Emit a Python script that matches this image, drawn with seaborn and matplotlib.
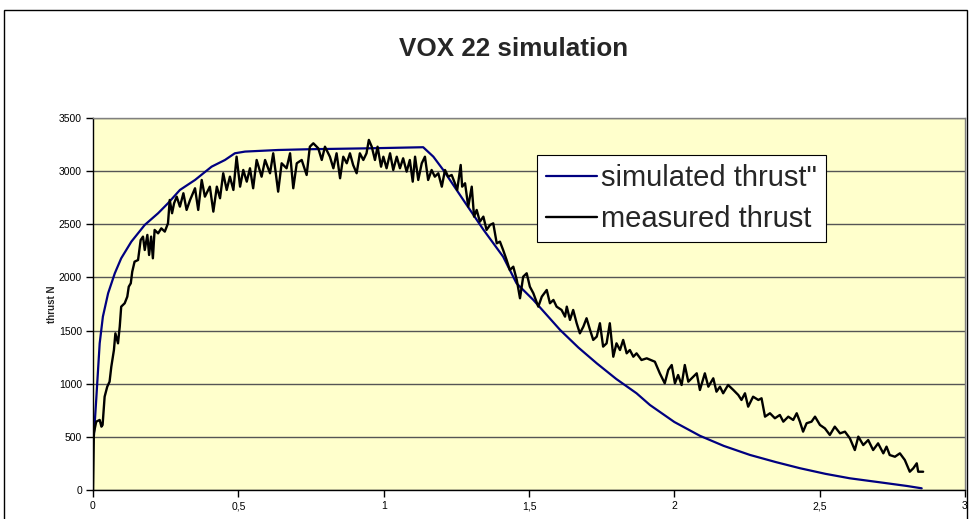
import matplotlib
matplotlib.use("Agg")
import matplotlib.pyplot as plt
from matplotlib.patches import Rectangle
import seaborn as sns

# simulated thrust (smooth curve)
sim_t = [0, 0.003, 0.011, 0.023, 0.034, 0.052, 0.075, 0.097, 0.132, 0.178,
         0.224, 0.258, 0.299, 0.351, 0.408, 0.454, 0.488, 0.523, 0.637, 0.741,
         0.953, 1.136, 1.171, 1.205, 1.274, 1.343, 1.411, 1.457, 1.515, 1.607,
         1.670, 1.733, 1.800, 1.870, 1.916, 2.000, 2.088, 2.170, 2.260, 2.350,
         2.432, 2.520, 2.604, 2.719, 2.800, 2.851]
sim_thrust = [480, 502, 847, 1380, 1631, 1851, 2039, 2180, 2337, 2494,
              2604, 2698, 2823, 2917, 3042, 3105, 3168, 3184, 3199, 3206,
              3215, 3225, 3136, 3011, 2729, 2450, 2195, 1945, 1788, 1506,
              1340, 1192, 1045, 910, 800, 640, 510, 415, 330, 262,
              205, 152, 110, 68, 38, 16]

# measured thrust (noisy)
meas_t = [0, 0.003, 0.011, 0.023, 0.029, 0.033, 0.040, 0.049, 0.057, 0.063,
          0.072, 0.077, 0.086, 0.092, 0.097, 0.109, 0.118, 0.123, 0.130, 0.135,
          0.143, 0.155, 0.164, 0.172, 0.178, 0.187, 0.193, 0.200, 0.206, 0.212,
          0.224, 0.235, 0.247, 0.258, 0.264, 0.272, 0.279, 0.288,
          0.299, 0.311, 0.322, 0.334, 0.351, 0.362, 0.374, 0.385, 0.402, 0.414,
          0.426, 0.437, 0.448, 0.460, 0.471, 0.483, 0.494, 0.506, 0.517, 0.529,
          0.540, 0.551, 0.563, 0.580, 0.592, 0.609, 0.620, 0.637, 0.649, 0.666,
          0.678, 0.689, 0.701, 0.718, 0.735, 0.746, 0.758, 0.775, 0.787, 0.798,
          0.815,
          0.827, 0.838, 0.850, 0.861, 0.873, 0.884, 0.895, 0.907, 0.918, 0.930,
          0.941, 0.949, 0.959, 0.970, 0.979, 0.991, 0.999, 1.010, 1.022, 1.033,
          1.045, 1.056, 1.067, 1.079, 1.090, 1.100, 1.108, 1.119, 1.131, 1.142,
          1.153, 1.165, 1.176, 1.188, 1.200, 1.211, 1.222, 1.234, 1.245, 1.253,
          1.265, 1.270, 1.280, 1.291, 1.303, 1.311, 1.320, 1.331, 1.343, 1.354,
          1.366, 1.377, 1.389, 1.400, 1.411, 1.423, 1.434, 1.446, 1.458, 1.469,
          1.480, 1.492, 1.503,
          1.515, 1.532, 1.544, 1.561, 1.572, 1.584, 1.595, 1.612, 1.624, 1.630,
          1.641, 1.652, 1.664, 1.675, 1.687, 1.698, 1.710, 1.721, 1.733, 1.744,
          1.755, 1.767, 1.778, 1.790, 1.801, 1.813, 1.824, 1.836, 1.847, 1.859,
          1.870, 1.887, 1.905,
          1.933, 1.950, 1.967, 1.979, 1.991, 2.002, 2.013, 2.025, 2.036, 2.048,
          2.065, 2.077, 2.088, 2.105, 2.117, 2.134, 2.145, 2.157, 2.168, 2.185,
          2.203, 2.220, 2.231, 2.243, 2.254, 2.271, 2.289, 2.300, 2.312, 2.329,
          2.346, 2.363, 2.375, 2.392, 2.409, 2.421, 2.432, 2.443, 2.455, 2.472,
          2.484, 2.501, 2.518, 2.535, 2.552, 2.570, 2.587, 2.604, 2.621, 2.633,
          2.650, 2.667, 2.684, 2.701, 2.719, 2.730, 2.741, 2.759, 2.776, 2.793,
          2.810, 2.822, 2.834, 2.839, 2.856]
meas_thrust = [0, 536, 643, 659, 596, 612, 878, 972, 1019, 1160,
               1317, 1474, 1380, 1537, 1725, 1757, 1819, 1913, 1945, 2054,
               2148, 2164, 2352, 2384, 2258, 2400, 2211, 2384, 2180, 2447,
               2415, 2462, 2431, 2509, 2729, 2604, 2698, 2760,
               2666, 2792, 2635, 2729, 2839, 2635, 2917, 2760, 2854, 2619,
               2854, 2745, 2980, 2823, 2948, 2823, 3136, 2854, 3011, 2901,
               3027, 2839, 3105, 2948, 3105, 2980, 3168, 2807, 3074, 3027,
               3168, 2839, 3074, 3105, 2964, 3230, 3262, 3215, 3105, 3230,
               3136,
               3027, 3168, 2933, 3136, 3074, 3168, 3058, 2980, 3168, 3105,
               3168, 3294, 3230, 3105, 3230, 3042, 3136, 3027, 3168, 3011,
               3136, 3027, 3121, 2995, 3105, 2901, 3136, 2917, 3074, 3136,
               2917, 3011, 2948, 2980, 2854, 3011, 2948, 2964, 2886, 2823,
               3058, 2854, 2886, 2666, 2854, 2572, 2635, 2525, 2572, 2447,
               2494, 2509, 2321, 2337, 2258, 2164, 2070, 2101, 1976, 1804,
               2007, 2039, 1913,
               1851, 1725, 1819, 1882, 1757, 1788, 1725, 1694, 1631, 1725,
               1600, 1694, 1569, 1474, 1537, 1616, 1506, 1412, 1443, 1569,
               1349, 1380, 1569, 1254, 1380, 1317, 1412, 1286, 1317, 1254,
               1286, 1223, 1239,
               1207, 1098, 1004, 1129, 1176, 1004, 1082, 988, 1176, 1019,
               1066, 1098, 941, 1098, 972, 1051, 925, 972, 910, 988,
               941, 894, 847, 910, 784, 878, 847, 863, 690, 722,
               675, 706, 643, 690, 659, 722, 643, 549, 628, 643,
               690, 612, 580, 518, 596, 533, 549, 486, 376, 502,
               423, 470, 376, 439, 345, 408, 329, 313, 345, 282,
               172, 204, 251, 172, 172]

x_ticks = [0, 0.5, 1, 1.5, 2, 2.5, 3]
x_labels = ["0", "0,5", "1", "1,5", "2", "2,5", "3"]
y_ticks = [0, 500, 1000, 1500, 2000, 2500, 3000, 3500]

sns.set_style("white")
plt.rcParams["font.family"] = ["Liberation Sans", "DejaVu Sans"]

fig = plt.figure(figsize=(9.7, 5.19), dpi=100)
ax = fig.add_axes([93 / 970, 29 / 519, 872 / 970, 372 / 519])
ax.set_facecolor("#FFFFCC")

sns.lineplot(x=sim_t, y=sim_thrust, ax=ax, color="#000080", lw=1.6,
             estimator=None, sort=False, label='simulated thrust"')
sns.lineplot(x=meas_t, y=meas_thrust, ax=ax, color="black", lw=1.7,
             estimator=None, sort=False, label="measured thrust")

ax.set_xlim(0, 3)
ax.set_ylim(0, 3500)
ax.set_xticks(x_ticks)
ax.set_xticklabels(x_labels)
ax.set_yticks(y_ticks)
ax.yaxis.grid(True, color="#555555", lw=1)
ax.set_axisbelow(True)
ax.tick_params(direction="out", length=5, width=1, labelsize=7.5, pad=3,
               bottom=True, left=True, colors="black")
for side in ["top", "right"]:
    ax.spines[side].set_color("#808080")
for side in ["left", "bottom"]:
    ax.spines[side].set_color("black")
for s in ax.spines.values():
    s.set_linewidth(1)
ax.set_xlabel("")
ax.set_ylabel("thrust N", fontsize=7, fontweight="bold", labelpad=1)

leg = ax.legend(loc="upper left", bbox_to_anchor=(0.509, 0.9005), fontsize=21,
                frameon=True, fancybox=False, framealpha=1, edgecolor="black",
                handlelength=1.75, handletextpad=0.15, labelspacing=0.45,
                borderpad=0.3, borderaxespad=0)
leg.get_frame().set_linewidth(0.8)

fig.text(514 / 970, 1 - 49 / 519, "VOX 22 simulation", ha="center", va="center",
         fontsize=18.7, fontweight="bold")

fig.patches.append(Rectangle((4 / 970, -0.05), 963 / 970, 1.05 - 10 / 519,
                             transform=fig.transFigure, fill=False,
                             edgecolor="black", lw=1))

fig.savefig("out.png", dpi=100)
